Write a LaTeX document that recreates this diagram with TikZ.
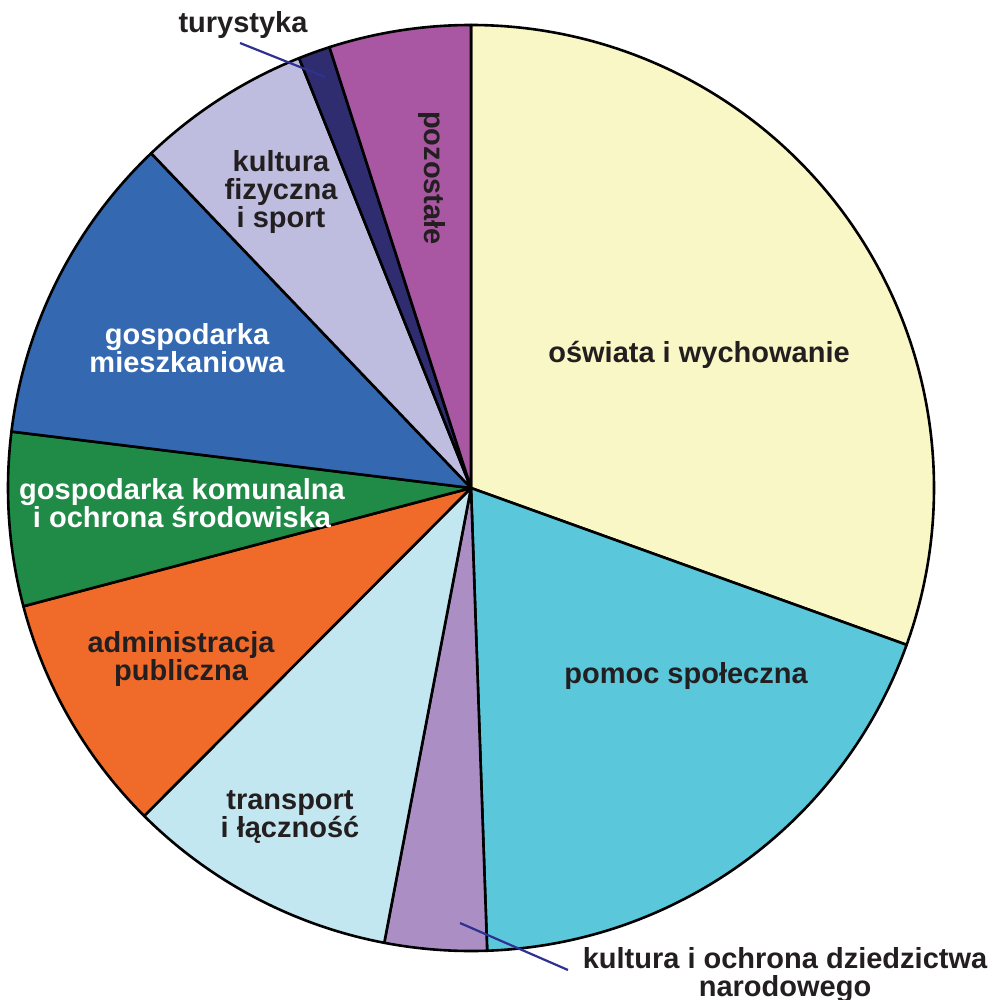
\documentclass[tikz,border=0pt]{standalone}
\usepackage{fontspec}
\setmainfont{Liberation Sans}
\definecolor{oswC}{HTML}{FAF7C6}
\definecolor{pomC}{HTML}{5BC7DB}
\definecolor{kodC}{HTML}{AB8EC4}
\definecolor{traC}{HTML}{C3E7F0}
\definecolor{admC}{HTML}{F06B2A}
\definecolor{komC}{HTML}{1F8B46}
\definecolor{mieC}{HTML}{3468B1}
\definecolor{fizC}{HTML}{BEBDE0}
\definecolor{turC}{HTML}{2F2C70}
\definecolor{pozC}{HTML}{A956A3}
\definecolor{txt}{HTML}{231F20}
\definecolor{leadC}{HTML}{2E3192}
\newcommand\pieslice[3]{\filldraw[slicestyle, fill=#3] (c) -- ++(#1:\R) arc[start angle=#1, end angle=#2, radius=\R] -- cycle;}
\begin{document}
\begin{tikzpicture}[x=1pt,y=-1pt,
  lab/.style={font=\fontsize{29}{28}\selectfont\bfseries, text=txt, align=center, inner sep=0pt},
  slicestyle/.style={draw=black, line width=2.6pt, line join=round},
  leader/.style={draw=leadC, line width=2.2pt}]
\useasboundingbox (0,0) rectangle (992,1000);
\coordinate (c) at (471,488);
\def\R{463}
\pieslice{-90}{19.8}{oswC}
\pieslice{19.8}{88.0}{pomC}
\pieslice{88.0}{100.8}{kodC}
\pieslice{100.8}{134.9}{traC}
\pieslice{134.9}{165.2}{admC}
\pieslice{165.2}{187.0}{komC}
\pieslice{187.0}{226.3}{mieC}
\pieslice{226.3}{248.2}{fizC}
\pieslice{248.2}{252.2}{turC}
\pieslice{252.2}{270}{pozC}

\node[lab] (osw) at (699,355) {oświata i wychowanie};
\node[lab] (pom) at (686,676) {pomoc społeczna};
\node[lab] (tra) at (290,817) {transport\\i łączność};
\node[lab] (adm) at (181,659) {administracja\\publiczna};
\node[lab,text=white] (kom) at (182,503) {gospodarka komunalna\\i ochrona środowiska};
\node[lab,text=white] (mie) at (187,348) {gospodarka\\mieszkaniowa};
\node[lab] (fiz) at (281,192) {kultura\\fizyczna\\i sport};
\node[lab,rotate=-90] (poz) at (432,178) {pozostałe};
\node[lab] (tur) at (243,25) {turystyka};
\node[lab] (kod) at (785,975) {kultura i ochrona dziedzictwa\\narodowego};

\coordinate (turA) at (240,43);
\coordinate (turB) at (325,77);
\draw[leader] (turA) -- (turB);
\coordinate (kodA) at (460,923);
\coordinate (kodB) at (568,970);
\draw[leader] (kodA) -- (kodB);
\end{tikzpicture}
\end{document}
